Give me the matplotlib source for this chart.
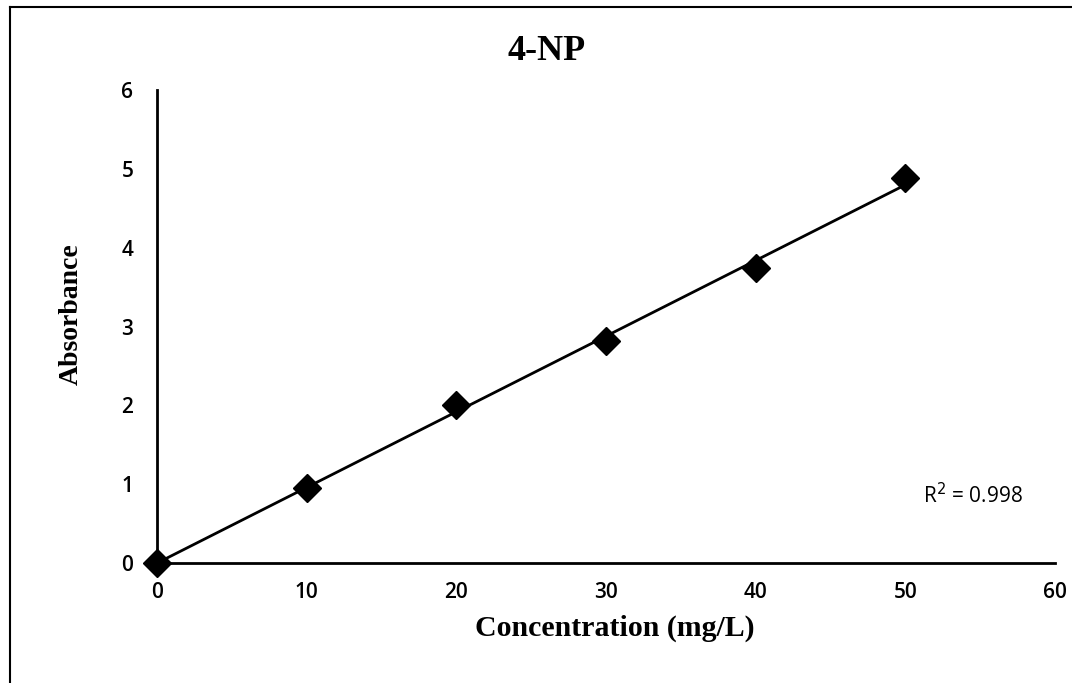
import numpy as np
import matplotlib
matplotlib.use("Agg")
from matplotlib import pyplot as plt
from matplotlib.lines import Line2D

# Datos de la curva de calibración
concentration = [0, 10, 20, 30, 40, 50]
absorbance = [0.0, 0.95, 2.0, 2.82, 3.74, 4.88]
x_ticks = [0, 10, 20, 30, 40, 50, 60]
y_ticks = [0, 1, 2, 3, 4, 5, 6]
r2_text = "R$^2$ = 0.998"

fig = plt.figure(figsize=(10.72, 6.83), dpi=100)
ax = fig.add_axes([0.1465, 0.1757, 0.8375, 0.6923])

# Línea de tendencia
slope, intercept = np.polyfit(concentration, absorbance, 1)
xs = np.array([0, 50])
ax.plot(xs, slope * xs + intercept, color='black', lw=2, zorder=2)
ax.plot(concentration, absorbance, 'D', color='black', markersize=14,
        clip_on=False, zorder=3)

ax.set_xlim(0, 60)
ax.set_ylim(0, 6)
ax.set_xticks(x_ticks)
ax.set_yticks(y_ticks)
ax.tick_params(length=0, labelsize=15)
ax.tick_params(axis='y', pad=17)
ax.tick_params(axis='x', pad=14)
for lab in ax.get_xticklabels() + ax.get_yticklabels():
    lab.set_fontfamily('Open Sans')
    lab.set_fontweight('semibold')
for s in ['top', 'right']:
    ax.spines[s].set_visible(False)
for s in ['left', 'bottom']:
    ax.spines[s].set_linewidth(2)

ax.set_title('4-NP', fontfamily='Liberation Serif', fontweight='bold',
             fontsize=26, x=0.434, y=1.063, pad=0)
ax.set_xlabel('Concentration (mg/L)', fontfamily='Liberation Serif',
              fontweight='bold', fontsize=21.5)
ax.xaxis.set_label_coords(0.51, -0.11)
ax.set_ylabel('Absorbance', fontfamily='Liberation Serif',
              fontweight='bold', fontsize=20)
ax.yaxis.set_label_coords(-0.082, 0.526)
ax.text(51.2, 0.85, r2_text, fontfamily='Open Sans', fontsize=15, va='center')

# Marco de la figura (solo borde superior e izquierdo visibles)
fig.add_artist(Line2D([0.009, 1.0], [0.99, 0.99], transform=fig.transFigure,
                      color='black', lw=1.5))
fig.add_artist(Line2D([0.009, 0.009], [0.0, 0.99], transform=fig.transFigure,
                      color='black', lw=1.5))

plt.savefig('out.png', dpi=100)
plt.close()
